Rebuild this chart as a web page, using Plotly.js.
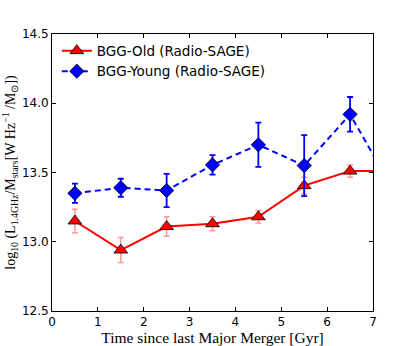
<!DOCTYPE html>
<html>
<head>
<meta charset="utf-8">
<script src="https://cdn.plot.ly/plotly-3.0.1.min.js"></script>
<style>
  html, body { margin: 0; padding: 0; background: #fff; }
  #plot { width: 415px; height: 346px; }
</style>
</head>
<body>
<div id="plot"></div>
<script>
// time since last major merger bins [Gyr]
const mergerTime = [0.5, 1.5, 2.5, 3.5, 4.5, 5.5, 6.5, 7.5];

// BGG-Old (Radio-SAGE)
const oldValues = [13.15, 12.94, 13.11, 13.13, 13.18, 13.405, 13.51, 13.51];
const oldErrors = [0.085, 0.09, 0.07, 0.05, 0.045, 0.06, 0.045, 0.05];

// BGG-Young (Radio-SAGE)
const youngValues = [13.35, 13.39, 13.37, 13.555, 13.70, 13.55, 13.92, 13.34];
const youngErrors = [0.07, 0.065, 0.12, 0.07, 0.16, 0.22, 0.125, 0.1];

const yTicks = [12.5, 13.0, 13.5, 14.0, 14.5];

const traceOld = {
  x: mergerTime,
  y: oldValues,
  name: 'BGG-Old (Radio-SAGE)',
  mode: 'lines+markers',
  type: 'scatter',
  line: {color: '#ff0000', width: 2},
  marker: {symbol: 'triangle-up', size: 12, color: '#ff0000', line: {color: '#000', width: 0.8}},
  error_y: {type: 'data', array: oldErrors, visible: true, color: 'rgba(255,0,0,0.4)', thickness: 1.5, width: 3}
};

const traceYoung = {
  x: mergerTime,
  y: youngValues,
  name: 'BGG-Young (Radio-SAGE)',
  mode: 'lines+markers',
  type: 'scatter',
  line: {color: '#0000ff', width: 2, dash: '6px,4px'},
  marker: {symbol: 'diamond', size: 11, color: '#0000ff', line: {color: '#000', width: 0.8}},
  error_y: {type: 'data', array: youngErrors, visible: true, color: '#0000ff', thickness: 1.8, width: 3}
};

const axisStyle = {
  showgrid: false,
  zeroline: false,
  showline: true,
  linecolor: '#000',
  linewidth: 1,
  mirror: 'ticks',
  ticks: 'inside',
  ticklen: 4,
  tickcolor: '#000',
  tickfont: {family: 'DejaVu Sans', size: 12, color: '#000'}
};

const layout = {
  width: 415,
  height: 346,
  margin: {l: 52, r: 42, t: 34, b: 35},
  paper_bgcolor: '#fff',
  plot_bgcolor: '#fff',
  showlegend: true,
  legend: {
    x: 0.015, y: 0.995, xanchor: 'left', yanchor: 'top',
    bgcolor: 'rgba(0,0,0,0)',
    font: {family: 'DejaVu Sans', size: 13.5, color: '#000'},
    tracegroupgap: 0,
    itemwidth: 30
  },
  xaxis: Object.assign({}, axisStyle, {
    range: [0, 7],
    tickvals: [0, 1, 2, 3, 4, 5, 6, 7],
    title: {text: 'Time since last Major Merger [Gyr]', font: {family: 'Liberation Serif', size: 15.5, color: '#000'}, standoff: 4}
  }),
  yaxis: Object.assign({}, axisStyle, {
    range: [12.5, 14.5],
    tickvals: yTicks,
    ticktext: yTicks.map(v => v.toFixed(1)),
    title: {
      text: 'log<sub>10</sub> (L<sub>1.4GHz</sub>/M<sub>stars</sub>[W Hz<sup>\u22121</sup> /M<sub>\u2299</sub>])',
      font: {family: 'Liberation Serif', size: 14, color: '#000'},
      standoff: 10
    }
  })
};

Plotly.newPlot('plot', [traceOld, traceYoung], layout, {displayModeBar: false, staticPlot: true});
</script>
</body>
</html>
